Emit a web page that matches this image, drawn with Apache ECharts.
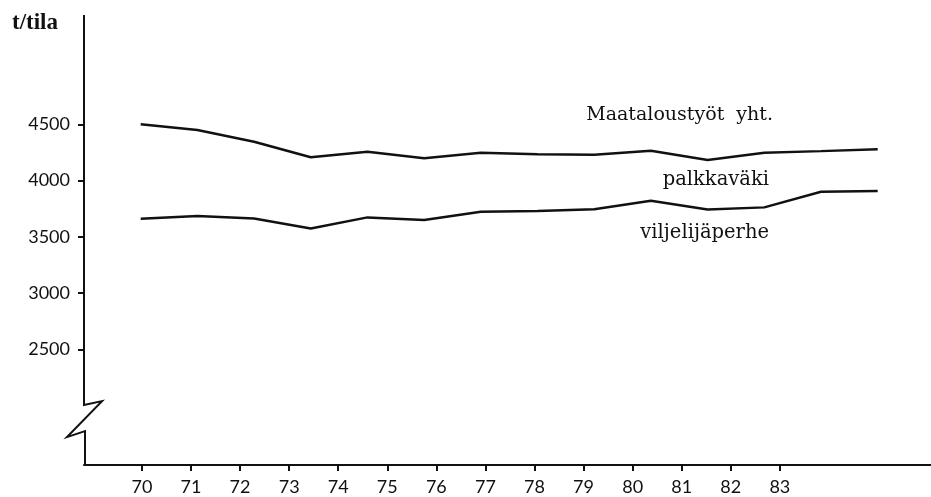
<!DOCTYPE html>
<html>
<head>
<meta charset="utf-8">
<script src="https://cdn.jsdelivr.net/npm/echarts@6/dist/echarts.min.js"></script>
<style>
  html, body { margin: 0; padding: 0; background: #fff; }
  #chart { width: 931px; height: 497px; }
</style>
</head>
<body>
<div id="chart"></div>
<script>
// vuodet 1970-1983
var years = [70, 71, 72, 73, 74, 75, 76, 77, 78, 79, 80, 81, 82, 83];
// t/tila
var yhteensa = [4500, 4449, 4345, 4207, 4256, 4198, 4248, 4235, 4230, 4265, 4183, 4248, 4262, 4278];
var viljelija = [3661, 3685, 3664, 3575, 3673, 3649, 3723, 3729, 3745, 3821, 3744, 3762, 3901, 3907];
var yTicks = [2500, 3000, 3500, 4000, 4500];
// katkos y-akselilla (arvot)
var breakVals = [2005, 2040, 1720, 1774];

var chart = echarts.init(document.getElementById('chart'));

function pairs(vals) {
  return years.map(function (y, i) { return [y, vals[i]]; });
}

var lineStyle = { color: '#111', width: 2.5 };

var option = {
  backgroundColor: '#fff',
  animation: false,
  grid: { left: 84, right: 0, top: 15, bottom: 32 },
  xAxis: [
    {
      // näkymätön akseli datalle
      type: 'value', min: 69, max: 83.94, show: false
    },
    {
      // vuosiakseli, merkinnät
      type: 'value', min: 68.82, max: 86.08, position: 'bottom',
      splitLine: { show: false },
      axisLine: { show: true, onZero: false, lineStyle: { color: '#111', width: 2 } },
      axisTick: { show: true, customValues: years, length: 6, lineStyle: { color: '#111', width: 2 } },
      axisLabel: {
        customValues: years, margin: 13, color: '#111',
        fontFamily: 'Lato', fontSize: 18,
        formatter: function (v) { return String(v); }
      }
    }
  ],
  yAxis: {
    type: 'value', min: 1472, max: 5472,
    splitLine: { show: false },
    axisLine: { show: false },
    axisTick: { show: true, customValues: yTicks, length: 6, lineStyle: { color: '#111', width: 2 } },
    axisLabel: {
      customValues: yTicks, margin: 14, color: '#111',
      fontFamily: 'Lato', fontSize: 18,
      formatter: function (v) { return String(v); }
    }
  },
  series: [
    {
      name: 'Maataloustyöt yht.', type: 'line', xAxisIndex: 0,
      data: pairs(yhteensa), showSymbol: false, lineStyle: lineStyle
    },
    {
      name: 'viljelijäperhe', type: 'line', xAxisIndex: 0,
      data: pairs(viljelija), showSymbol: false, lineStyle: lineStyle
    }
  ]
};
chart.setOption(option);

// y-akselin viiva katkoksineen
function yPx(v) { return chart.convertToPixel({ yAxisIndex: 0 }, v); }
var ax = 84;
var axisPts = [
  [ax, yPx(5472)],
  [ax, yPx(breakVals[0])],
  [ax + 18, yPx(breakVals[1])],
  [ax - 17, yPx(breakVals[2])],
  [ax + 1, yPx(breakVals[3])],
  [ax + 1, yPx(1472)]
];

function txt(x, y, s, size, family, weight, align) {
  return {
    type: 'text', x: x, y: y,
    style: {
      text: s, fill: '#111', fontSize: size, fontFamily: family,
      fontWeight: weight || 'normal', align: align || 'right', verticalAlign: 'middle'
    }
  };
}

var serif = 'DejaVu Serif';
chart.setOption({
  graphic: [
    { type: 'polyline', shape: { points: axisPts }, style: { stroke: '#111', lineWidth: 2, fill: null } },
    txt(12, 23, 't/tila', 23, 'Liberation Serif', 'bold', 'left'),
    txt(773, 115, 'Maataloustyöt  yht.', 19, serif),
    txt(769, 180, 'palkkaväki', 19.5, serif),
    txt(769, 233, 'viljelijäperhe', 19.5, serif)
  ]
});
</script>
</body>
</html>
